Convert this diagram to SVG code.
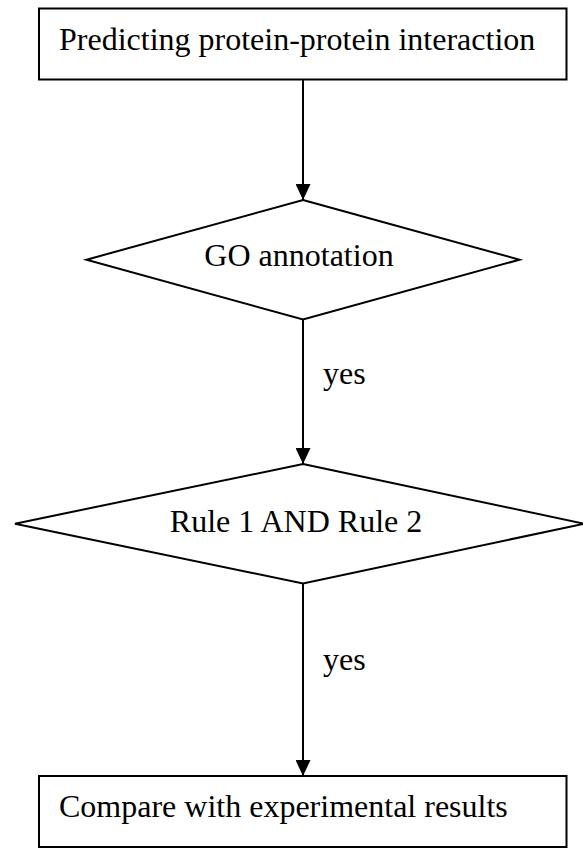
<svg xmlns="http://www.w3.org/2000/svg" width="583" height="848" viewBox="0 0 583 848">
  <style>
    .shape { fill: #ffffff; stroke: #000000; stroke-width: 2; }
    .edge { fill: none; stroke: #000000; stroke-width: 2; marker-end: url(#arrow); }
    .label { font-family: "Liberation Serif", "Times New Roman", serif; font-size: 32px; fill: #000000; }
    .mid { text-anchor: middle; }
  </style>
  <defs>
    <!-- solid triangular head, tip at the end of the line -->
    <marker id="arrow" viewBox="0 0 16 15" refX="16" refY="7.5" markerWidth="16" markerHeight="15" markerUnits="userSpaceOnUse" orient="auto">
      <path d="M0,0 L16,7.5 L0,15 Z" fill="#000000"/>
    </marker>
  </defs>
  <rect width="583" height="848" fill="#ffffff"/>

  <g id="connectors">
    <line class="edge" x1="303" y1="80" x2="303" y2="200"/>
    <line class="edge" x1="303" y1="320" x2="303" y2="464"/>
    <line class="edge" x1="303" y1="584" x2="303" y2="776"/>
    <text class="label" x="323" y="384" font-size="31">yes</text>
    <text class="label" x="323" y="670" font-size="31">yes</text>
  </g>

  <g id="start">
    <rect class="shape" x="39" y="8.5" width="527.5" height="71"/>
    <text class="label" x="59" y="50">Predicting protein-protein interaction</text>
  </g>

  <g id="go-annotation">
    <polygon class="shape" points="303,200 519.5,259.7 303,319.5 86.5,259.7"/>
    <text class="label mid" x="299" y="266">GO annotation</text>
  </g>

  <g id="rules">
    <polygon class="shape" points="303,464 584,523.7 303,583.5 15,523.7"/>
    <text class="label mid" x="296" y="532">Rule 1 AND Rule 2</text>
  </g>

  <g id="compare">
    <rect class="shape" x="39" y="776" width="527.5" height="71"/>
    <text class="label" x="59" y="817">Compare with experimental results</text>
  </g>
</svg>
